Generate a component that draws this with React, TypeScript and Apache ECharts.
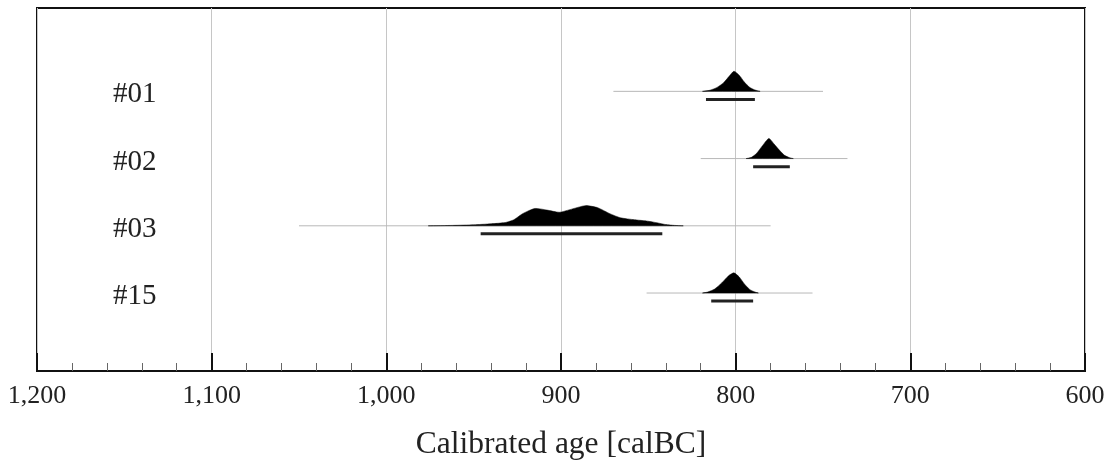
import React, { useEffect, useRef } from "react";
import * as echarts from "echarts";

// Sample labels, top to bottom
const samples = ["#01", "#02", "#03", "#15"];

// Full extent of each calibrated distribution (thin line), calBC
const rangeFrom = [870, 820, 1050, 851];
const rangeTo = [750, 736, 780, 756];

// 95.4% highest-probability ranges (thick bar), calBC
const hpdFrom = [817, 790, 946, 814];
const hpdTo = [789, 769, 842, 790];

// Relative probability densities: [year calBC, relative density]
const density01 = [
  [819, 0], [815, 0.05], [811, 0.18], [807, 0.42], [804, 0.72], [801, 1],
  [798, 0.8], [795, 0.46], [792, 0.2], [789, 0.07], [786, 0],
];
const density02 = [
  [794, 0], [791, 0.06], [788, 0.26], [785, 0.6], [781, 1], [778, 0.72],
  [775, 0.42], [772, 0.16], [769, 0.04], [767, 0],
];
const density03 = [
  [976, 0], [962, 0.02], [950, 0.05], [940, 0.1], [932, 0.16], [927, 0.3],
  [922, 0.6], [915, 0.86], [908, 0.78], [901, 0.67], [895, 0.8], [886, 1],
  [879, 0.9], [872, 0.6], [866, 0.4], [858, 0.3], [851, 0.24], [845, 0.15],
  [840, 0.06], [835, 0.02], [830, 0],
];
const density15 = [
  [819, 0], [816, 0.05], [812, 0.2], [808, 0.5], [804, 0.86], [801, 1],
  [798, 0.8], [795, 0.45], [792, 0.18], [789, 0.05], [787, 0],
];
const densities = [density01, density02, density03, density15];

// X axis: calendar years BC, running right to left
const xMin = 600;
const xMax = 1200;
const xStep = 100;

const DENSITY_HEIGHT = 0.3; // row units per unit relative density
const BAR_OFFSET = 0.12; // row units below the baseline for the range bar

const serif = "'Liberation Serif', 'Times New Roman', serif";

export default function App() {
  const ref = useRef<HTMLDivElement>(null);

  useEffect(() => {
    if (!ref.current) return;
    const chart = echarts.init(ref.current, undefined, { renderer: "svg" });

    const renderItem = (params: any, api: any) => {
      const i = params.dataIndex;
      const row = i + 1;
      const dens = densities[i];

      const lineA = api.coord([rangeFrom[i], row]);
      const lineB = api.coord([rangeTo[i], row]);

      const top = dens.map((p) => api.coord([p[0], row - p[1] * DENSITY_HEIGHT]));
      const base = [
        api.coord([dens[dens.length - 1][0], row]),
        api.coord([dens[0][0], row]),
      ];

      const barA = api.coord([hpdFrom[i], row + BAR_OFFSET]);
      const barB = api.coord([hpdTo[i], row + BAR_OFFSET]);

      const labelPos = api.coord([xMax, row]);

      return {
        type: "group",
        children: [
          {
            type: "line",
            shape: { x1: lineA[0], y1: lineA[1], x2: lineB[0], y2: lineB[1] },
            style: { stroke: "#b8b8b8", lineWidth: 1 },
          },
          {
            type: "polygon",
            shape: { points: top.concat(base), smooth: 0.2 },
            style: { fill: "#000", stroke: "#000", lineWidth: 0.5 },
          },
          {
            type: "line",
            shape: { x1: barA[0], y1: barA[1], x2: barB[0], y2: barB[1] },
            style: { stroke: "#222", lineWidth: 3 },
          },
          {
            type: "text",
            x: labelPos[0] + 76,
            y: labelPos[1] + 1,
            style: {
              text: samples[i],
              fill: "#222",
              font: `29px ${serif}`,
              textAlign: "left",
              textVerticalAlign: "middle",
            },
          },
        ],
      };
    };

    chart.setOption({
      animation: false,
      grid: {
        left: 37,
        right: 30,
        top: 8,
        bottom: 95,
        show: true,
        borderColor: "#111",
        borderWidth: 2,
        backgroundColor: "transparent",
      },
      xAxis: {
        type: "value",
        position: "bottom",
        min: xMin,
        max: xMax,
        interval: xStep,
        inverse: true,
        name: "Calibrated age [calBC]",
        nameLocation: "middle",
        nameGap: 55,
        nameTextStyle: { fontFamily: serif, fontSize: 31.5, color: "#222" },
        axisLine: { onZero: false, lineStyle: { color: "#111", width: 2 } },
        axisTick: { inside: true, length: 18, lineStyle: { color: "#111", width: 2 } },
        minorTick: { show: true, splitNumber: 5, length: 8, lineStyle: { color: "#666", width: 1 } },
        splitLine: { show: true, lineStyle: { color: "#c6c6c6", width: 1 } },
        axisLabel: {
          margin: 10,
          fontFamily: serif,
          fontSize: 26,
          color: "#222",
          formatter: (v: number) => v.toLocaleString("en-US"),
        },
      },
      yAxis: {
        type: "value",
        min: -0.24,
        max: 5.16,
        inverse: true,
        show: false,
        splitLine: { show: false },
      },
      series: [
        {
          type: "custom",
          renderItem,
          clip: false,
          data: samples.map((_, i) => [i]),
          encode: { x: [], y: [] },
        },
      ],
    });

    return () => chart.dispose();
  }, []);

  return (
    <div
      ref={ref}
      style={{ position: "fixed", left: 0, top: 0, width: 1115, height: 466 }}
    />
  );
}
